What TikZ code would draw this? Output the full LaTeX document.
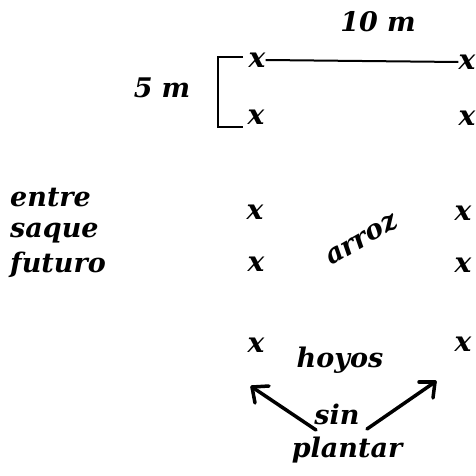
\documentclass[tikz,border=0pt]{standalone}
\usepackage{fontspec}
\setmainfont{DejaVu Serif}
\begin{document}
\begin{tikzpicture}[x=1pt,y=-1pt,
  hand/.style={font=\fontsize{27}{29}\selectfont\bfseries\itshape, inner sep=0pt},
  crossmark/.style={font=\fontsize{28}{28}\selectfont\bfseries\itshape, inner sep=0pt},
  thickline/.style={line width=3.5pt, line cap=round},
  thinline/.style={line width=2pt}]
\useasboundingbox (0,0) rectangle (475,476);
% crosses
\node[crossmark] (a1) at (257,60) {x};
\node[crossmark] (b1) at (467,62) {x};
\node[crossmark] (a2) at (256,117) {x};
\node[crossmark] (b2) at (467,118) {x};
\node[crossmark] (a3) at (255,212) {x};
\node[crossmark] (b3) at (463,213) {x};
\node[crossmark] (a4) at (256,264) {x};
\node[crossmark] (b4) at (463,265) {x};
\node[crossmark] (a5) at (256,345) {x};
\node[crossmark] (b5) at (463,344) {x};
% 10 m line
\draw[thinline] (a1.east) -- (b1.west);
\node[hand] (ten) at (378,22) {10\,\,m};
% bracket
\coordinate (bt) at (243,57);
\coordinate (bb) at (243,127);
\draw[thinline] (bt) -- (218,57) -- (218,127) -- (bb);
\node[hand] (five) at (162,88) {5\,\,m};
% labels
\node[hand, anchor=west] (entre) at (10,198) {entre};
\node[hand, anchor=west] (saque) at (10,233) {saque};
\node[hand, anchor=west] (futuro) at (10,265) {futuro};
\node[hand, rotate=30] (arroz) at (362,240) {arroz};
\node[hand] (hoyos) at (340,360) {hoyos};
\node[hand] (sin) at (337,414) {sin};
\node[hand] (plantar) at (347,450) {plantar};
% arrows
\coordinate (l0) at (316,430);
\coordinate (l1) at (252,387);
\coordinate (r0) at (367,429);
\coordinate (r1) at (435,382);
\draw[thickline] (l0) -- (l1);
\draw[thickline] (l1) -- ++(3,16);
\draw[thickline] (l1) -- ++(17,-1);
\draw[thickline] (r0) -- (r1);
\draw[thickline] (r1) -- ++(-16,0);
\draw[thickline] (r1) -- ++(-2,16);
\end{tikzpicture}
\end{document}
